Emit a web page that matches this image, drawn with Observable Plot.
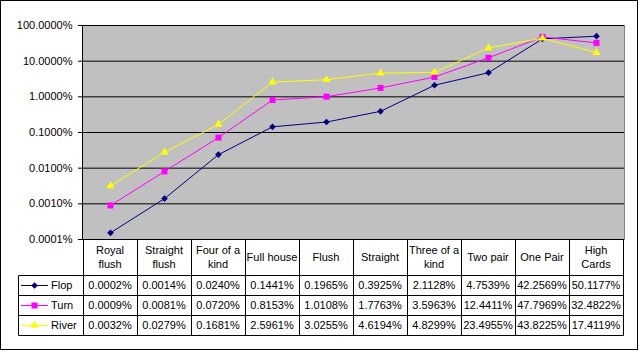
<!DOCTYPE html>
<html><head><meta charset="utf-8">
<script src="https://cdn.jsdelivr.net/npm/d3@7"></script>
<script src="https://cdn.jsdelivr.net/npm/@observablehq/plot@0.6"></script>
<style>body{margin:0;background:#fff} svg{display:block}</style>
</head><body><div id="chart"></div>
<script>
const categories = ["Royal flush","Straight flush","Four of a kind","Full house","Flush","Straight","Three of a kind","Two pair","One Pair","High Cards"];
const categoryLabels = [["Royal","flush"],["Straight","flush"],["Four of a","kind"],["Full house"],["Flush"],["Straight"],["Three of a","kind"],["Two pair"],["One Pair"],["High","Cards"]];
// values in percent
const flop  = [0.000154,0.0014,0.0240,0.1441,0.1965,0.3925,2.1128,4.7539,42.2569,50.1177];
const turn  = [0.0009,0.0081,0.0720,0.8153,1.0108,1.7763,3.5963,12.4411,47.7969,32.4822];
const river = [0.0032,0.0279,0.1681,2.5961,3.0255,4.6194,4.8299,23.4955,43.8225,17.4119];
const seriesNames = ["Flop","Turn","River"];
const seriesColors = ["#000080","#FF00FF","#FFFF00"];
const seriesSymbols = ["diamond2","square","triangle"];
const seriesR = [3, 3.4, 3];
const yTicks = [0.0001,0.001,0.01,0.1,1,10,100];

const seriesValues = [flop, turn, river];
const fmt = v => v.toFixed(4) + "%";
const font = "Arial, 'Liberation Sans', sans-serif";

const seriesData = seriesValues.map((vals, i) => vals.map((v, j) => ({series: seriesNames[i], category: categories[j], value: v})));

const marks = [
  Plot.frame({fill: "#c0c0c0"}),
  Plot.ruleY(yTicks, {stroke: "#000", strokeWidth: 1}),
  Plot.frame({anchor: "right", stroke: "#808080"}),
  Plot.frame({anchor: "left", stroke: "#000"}),
  Plot.axisY({ticks: yTicks, tickSize: 4, tickPadding: 6, tickFormat: fmt, fontSize: 11, stroke: "#000", label: null})
];
seriesData.forEach((d, i) => {
  marks.push(Plot.line(d, {x: "category", y: "value", stroke: seriesColors[i], strokeWidth: 1}));
  marks.push(Plot.dot(d, {x: "category", y: "value", symbol: seriesSymbols[i], fill: seriesColors[i], stroke: "none", r: seriesR[i]}));
});

const chart = Plot.plot({
  width: 639, height: 351,
  marginLeft: 82, marginRight: 15, marginTop: 25, marginBottom: 112,
  style: {fontFamily: font, fontSize: "11px", background: "#fff", color: "#000", overflow: "visible"},
  x: {type: "band", domain: categories, padding: 0, axis: null},
  y: {type: "log", domain: [0.0001, 100], axis: null},
  marks
});
document.getElementById("chart").append(chart);

// data table beneath the plot, aligned with the x band scale
const xs = chart.scale("x");
const ys = chart.scale("y");
const bw = xs.bandwidth;
const right = xs.apply(categories[categories.length - 1]) + bw;
const top0 = Math.round(ys.apply(yTicks[0]));
const headerH = 36, rowH = 20, legendLeft = 18;
const hdrBottom = top0 + headerH;
const tableBottom = hdrBottom + rowH * seriesNames.length;

const svg = d3.select(chart);
const g = svg.append("g").attr("font-family", font).attr("font-size", 11).attr("fill", "#000").attr("text-anchor", "start");
const crisp = v => Math.round(v) + 0.5;

// horizontal lines
for (let k = 0; k <= seriesNames.length; k++) {
  const yy = crisp(hdrBottom + k * rowH);
  g.append("line").attr("x1", crisp(legendLeft)).attr("x2", crisp(right)).attr("y1", yy).attr("y2", yy).attr("stroke", "#000");
}
// vertical lines
const edges = categories.map(c => xs.apply(c)).concat([right]);
edges.forEach(e => {
  g.append("line").attr("x1", crisp(e)).attr("x2", crisp(e)).attr("y1", top0).attr("y2", crisp(tableBottom)).attr("stroke", "#000");
});
g.append("line").attr("x1", crisp(legendLeft)).attr("x2", crisp(legendLeft)).attr("y1", crisp(hdrBottom)).attr("y2", crisp(tableBottom)).attr("stroke", "#000");

// header labels
categoryLabels.forEach((lines, j) => {
  const cx = xs.apply(categories[j]) + bw / 2;
  const cy = top0 + headerH / 2;
  lines.forEach((ln, k) => {
    g.append("text").attr("x", cx).attr("y", cy + (k - (lines.length - 1) / 2) * 14).attr("dy", "0.36em")
      .attr("text-anchor", "middle").text(ln);
  });
});

// rows
seriesNames.forEach((s, i) => {
  const cy = hdrBottom + rowH * i + rowH / 2;
  g.append("line").attr("x1", legendLeft + 3).attr("x2", legendLeft + 30).attr("y1", crisp(cy)).attr("y2", crisp(cy)).attr("stroke", seriesColors[i]);
  const sym = {diamond2: d3.symbolDiamond2, square: d3.symbolSquare, triangle: d3.symbolTriangle}[seriesSymbols[i]];
  g.append("path").attr("d", d3.symbol(sym, Math.PI * seriesR[i] * seriesR[i])()).attr("transform", `translate(${legendLeft + 16.5},${crisp(cy)})`).attr("fill", seriesColors[i]);
  g.append("text").attr("x", legendLeft + 33).attr("y", cy).attr("dy", "0.38em").attr("text-anchor", "start").text(s);
  seriesValues[i].forEach((v, j) => {
    g.append("text").attr("x", xs.apply(categories[j]) + bw / 2).attr("y", cy).attr("dy", "0.38em")
      .attr("text-anchor", "middle").text(fmt(v));
  });
});

// outer border
svg.append("rect").attr("x", 0.5).attr("y", 0.5).attr("width", 637).attr("height", 349).attr("fill", "none").attr("stroke", "#000");
</script></body></html>
